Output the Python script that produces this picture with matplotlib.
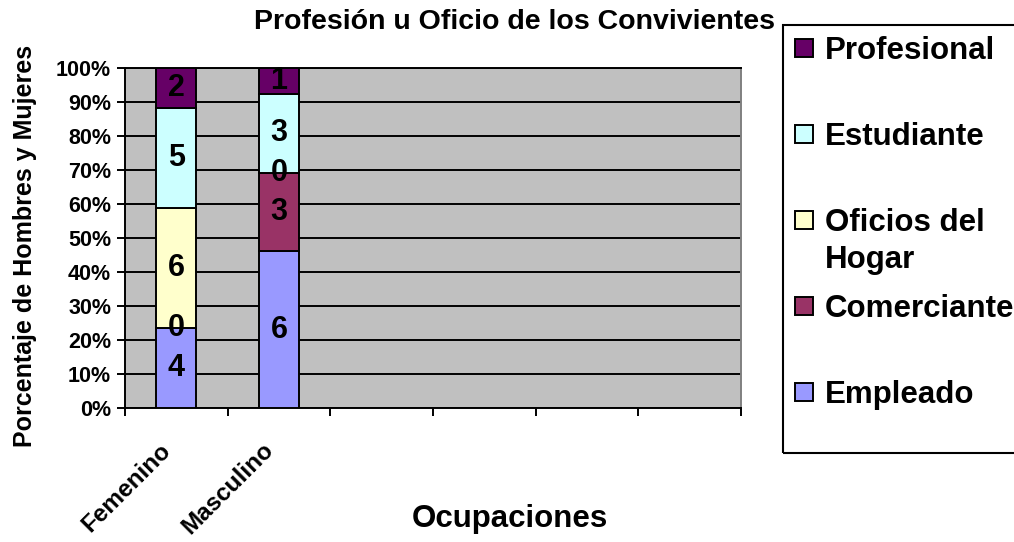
import numpy as np
import matplotlib.pyplot as plt
from matplotlib.patches import Rectangle

plt.rcParams['font.family'] = ['Liberation Sans', 'DejaVu Sans']
plt.rcParams['font.weight'] = 'bold'

# datos (conteos por sexo)
categorias = ['Femenino', 'Masculino']
n_huecos = 6
series = ['Empleado', 'Comerciante', 'Oficios del\nHogar', 'Estudiante', 'Profesional']
empleado = [4, 6]
comerciante = [0, 3]
oficios_hogar = [6, 0]
estudiante = [5, 3]
profesional = [2, 1]
colores = ['#9999FF', '#993366', '#FFFFCC', '#CCFFFF', '#660066']
yticks = [0, 10, 20, 30, 40, 50, 60, 70, 80, 90, 100]

W, H = 1014, 542
fig = plt.figure(figsize=(W / 100, H / 100), dpi=100)
ax = fig.add_axes([125 / W, 1 - 408 / H, 616 / W, 340 / H])
ax.set_facecolor('#C0C0C0')

datos = np.array([empleado, comerciante, oficios_hogar, estudiante, profesional], dtype=float)
pct = datos / datos.sum(axis=0) * 100
x = np.arange(len(categorias))
base = np.zeros(len(categorias))
for i in range(len(series)):
    ax.bar(x, pct[i], 0.39, bottom=base, color=colores[i], edgecolor='black', linewidth=1.4, zorder=3)
    for j in range(len(x)):
        ax.text(x[j], base[j] + pct[i][j] / 2, str(int(datos[i][j])), ha='center', va='center',
                fontsize=22, zorder=4)
    base += pct[i]

# ejes
ax.set_xlim(-0.5, n_huecos - 0.5)
ax.set_ylim(0, 100)
ax.set_xticks(np.arange(-0.5, n_huecos, 1))
ax.set_xticklabels([])
ax.set_yticks(yticks)
ax.set_yticklabels(['{}%'.format(v) for v in yticks], fontsize=15.5)
ax.tick_params(axis='both', direction='out', length=6, width=1.4, color='black')
ax.tick_params(axis='y', pad=4)
ax.set_axisbelow(True)
ax.yaxis.grid(True, color='black', linewidth=1.4)
for s in ['left', 'bottom', 'top']:
    ax.spines[s].set_linewidth(1.4)
    ax.spines[s].set_color('black')
ax.spines['right'].set_color('#808080')
ax.spines['right'].set_linewidth(1.4)

# etiquetas de categoria giradas
for j, cat in enumerate(categorias):
    ax.text(x[j] - 0.17, -0.09, cat, rotation=45, rotation_mode='anchor', ha='right', va='top',
            fontsize=17.5, transform=ax.get_xaxis_transform())

# titulos
fig.text(514 / W, 1 - 22 / H, 'Profesión u Oficio de los Convivientes', ha='center', va='center', fontsize=20.5)
fig.text(25 / W, 1 - 246 / H, 'Porcentaje de Hombres y Mujeres', rotation=90, ha='center', va='center',
         fontsize=18)
fig.text(510 / W, 1 - 519 / H, 'Ocupaciones', ha='center', va='center', fontsize=22.5)

# leyenda dibujada a mano (orden inverso como Excel)
fig.add_artist(Rectangle((783 / W, 1 - 453 / H), 260 / W, 428 / H, transform=fig.transFigure,
                         fill=False, edgecolor='black', linewidth=1.5))
for k, i in enumerate(range(len(series) - 1, -1, -1)):
    yc = 48 + 86 * k
    fig.add_artist(Rectangle((795 / W, 1 - (yc + 9) / H), 18 / W, 18 / H, transform=fig.transFigure,
                             facecolor=colores[i], edgecolor='black', linewidth=1.4))
    for m, linea in enumerate(series[i].split('\n')):
        fig.text(825 / W, 1 - (yc + 11 + 37 * m) / H, linea, ha='left', va='baseline', fontsize=22.5)

fig.savefig('out.png', dpi=100)
